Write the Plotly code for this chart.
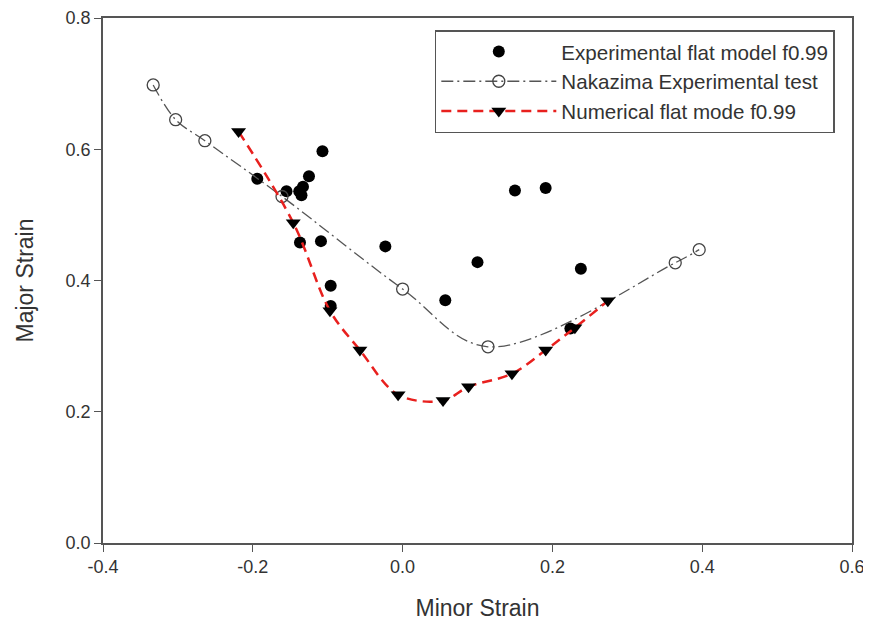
import plotly.graph_objects as go

# Experimental flat model f0.99 (filled circles)
exp_minor = [-0.194, -0.155, -0.138, -0.135, -0.133, -0.125, -0.107, -0.137, -0.109,
             -0.096, -0.096, -0.023, 0.057, 0.100, 0.150, 0.191, 0.224, 0.238]
exp_major = [0.555, 0.536, 0.536, 0.530, 0.543, 0.559, 0.597, 0.458, 0.460,
             0.392, 0.361, 0.452, 0.370, 0.428, 0.537, 0.541, 0.327, 0.418]

# Nakazima experimental test (open circles)
nak_minor = [-0.333, -0.303, -0.264, -0.161, 0.0, 0.114, 0.364, 0.396]
nak_major = [0.698, 0.645, 0.613, 0.528, 0.387, 0.299, 0.427, 0.447]

# Numerical flat mode f0.99 (triangles)
num_minor = [-0.219, -0.146, -0.097, -0.057, -0.006, 0.054, 0.088, 0.146, 0.191, 0.230, 0.274]
num_major = [0.627, 0.488, 0.354, 0.294, 0.226, 0.217, 0.238, 0.258, 0.294, 0.328, 0.369]

x_ticks = [-0.4, -0.2, 0.0, 0.2, 0.4, 0.6]
y_ticks = [0.0, 0.2, 0.4, 0.6, 0.8]

font = "Liberation Sans, Arial, sans-serif"

fig = go.Figure()
fig.add_trace(go.Scatter(
    x=exp_minor, y=exp_major, mode="markers",
    name="Experimental flat model f0.99",
    marker=dict(symbol="circle", size=12, color="black"),
))
fig.add_trace(go.Scatter(
    x=nak_minor, y=nak_major, mode="lines+markers",
    name="Nakazima Experimental test",
    line=dict(color="#555555", width=1.3, dash="12px,4px,2px,4px", shape="spline", smoothing=1),
    marker=dict(symbol="circle-open", size=12, color="#444444", line=dict(width=1.3)),
))
fig.add_trace(go.Scatter(
    x=num_minor, y=num_major, mode="lines+markers",
    name="Numerical flat mode f0.99",
    line=dict(color="#e8201e", width=2.5, dash="10px,6px", shape="spline", smoothing=1),
    marker=dict(symbol="triangle-down", size=13, color="black"),
))

axis_common = dict(
    showline=True, linecolor="#555555", linewidth=1.5, mirror=True,
    ticks="outside", ticklen=7, tickcolor="#555555", tickwidth=1.2,
    showgrid=False, zeroline=False, ticklabeloverflow="allow", automargin=False,
    tickfont=dict(family=font, size=18, color="#333333"),
)

fig.update_xaxes(
    range=[-0.4, 0.6], tickvals=x_ticks,
    ticktext=[f"{v:.1f}" for v in x_ticks],
    title=dict(text="Minor Strain", font=dict(family=font, size=23, color="#333333"), standoff=24),
    **axis_common,
)
fig.update_yaxes(
    range=[0, 0.8], tickvals=y_ticks,
    ticktext=[f"{v:.1f}" for v in y_ticks],
    title=dict(text="Major Strain", font=dict(family=font, size=23, color="#333333"), standoff=26),
    **axis_common,
)

# page body has an 8px margin, so the figure is sized to end at the window edge
fig.update_layout(
    width=863, height=620,
    margin=dict(l=95, r=19, t=10, b=85),
    plot_bgcolor="white", paper_bgcolor="white",
    font=dict(family=font, color="#333333"),
    legend=dict(
        x=0.443, y=0.977, xanchor="left", yanchor="top",
        bordercolor="#555555", borderwidth=1.5, bgcolor="white",
        font=dict(family=font, size=20.6, color="#333333"),
        itemwidth=115, tracegroupgap=0,
    ),
)

fig.write_html("out.html")
